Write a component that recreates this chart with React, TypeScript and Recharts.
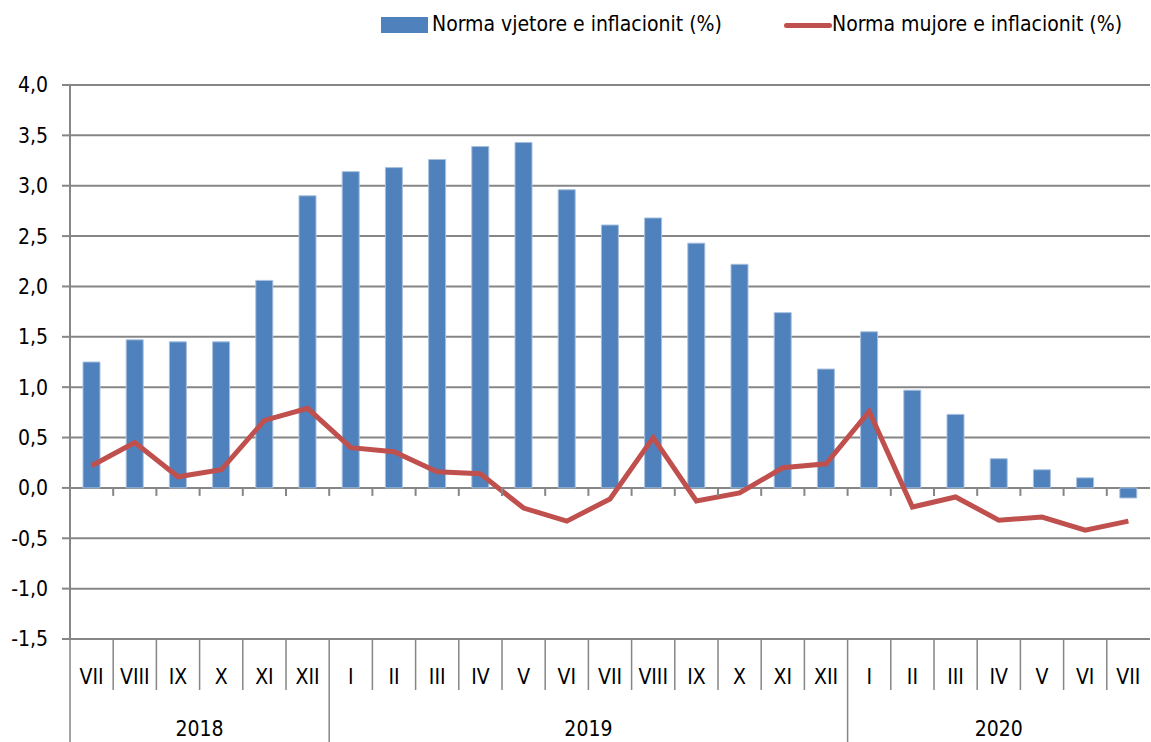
import React from "react";
import {
  ComposedChart,
  Bar,
  Line,
  XAxis,
  YAxis,
  CartesianGrid,
} from "recharts";

const months = [
  "VII", "VIII", "IX", "X", "XI", "XII",
  "I", "II", "III", "IV", "V", "VI", "VII", "VIII", "IX", "X", "XI", "XII",
  "I", "II", "III", "IV", "V", "VI", "VII",
];
const years = ["2018", "2019", "2020"];
const monthsPerYear = [6, 12, 7];

// Norma vjetore e inflacionit (%)
const annualRate = [
  1.25, 1.47, 1.45, 1.45, 2.06, 2.9,
  3.14, 3.18, 3.26, 3.39, 3.43, 2.96, 2.61, 2.68, 2.43, 2.22, 1.74, 1.18,
  1.55, 0.97, 0.73, 0.29, 0.18, 0.1, -0.1,
];
// Norma mujore e inflacionit (%)
const monthlyRate = [
  0.22, 0.45, 0.11, 0.18, 0.67, 0.79,
  0.4, 0.36, 0.16, 0.14, -0.2, -0.33, -0.11, 0.5, -0.13, -0.05, 0.2, 0.24,
  0.76, -0.19, -0.09, -0.32, -0.29, -0.42, -0.33,
];
const yTicks = [-1.5, -1, -0.5, 0, 0.5, 1, 1.5, 2, 2.5, 3, 3.5, 4];

const data = months.map((m, i) => ({
  month: m,
  annual: annualRate[i],
  monthly: monthlyRate[i],
}));

const W = 1151;
const H = 742;
const PLOT_LEFT = 70;
const PLOT_RIGHT = 1150;
const PLOT_TOP = 85;
const PLOT_BOTTOM = 639;
const BAND = (PLOT_RIGHT - PLOT_LEFT) / months.length;
const ZERO_Y =
  PLOT_TOP + ((4 - 0) / (4 - -1.5)) * (PLOT_BOTTOM - PLOT_TOP);

const FONT = "'DejaVu Sans Condensed', 'DejaVu Sans', sans-serif";
const FS = 21;
const GRID = "#868686";
const textStyle: React.CSSProperties = { fontStretch: "condensed" };

const yearStarts = monthsPerYear.map((_, k) =>
  monthsPerYear.slice(0, k).reduce((a, b) => a + b, 0)
);

function MonthTick(props: any) {
  const { x, payload, index } = props;
  const left = x - BAND / 2;
  const k = yearStarts.indexOf(index);
  return (
    <g>
      <line x1={left} x2={left} y1={ZERO_Y} y2={ZERO_Y + 8} stroke={GRID} strokeWidth={2} />
      <line
        x1={left}
        x2={left}
        y1={PLOT_BOTTOM}
        y2={k >= 0 ? H : 690}
        stroke={GRID}
        strokeWidth={1.5}
      />
      <text x={x} y={684} textAnchor="middle" fontSize={FS} fill="#000" fontFamily={FONT} style={textStyle}>
        {payload.value}
      </text>
      {k >= 0 && (
        <text
          x={left + (monthsPerYear[k] * BAND) / 2}
          y={736}
          textAnchor="middle"
          fontSize={FS}
          fill="#000"
          fontFamily={FONT}
          style={textStyle}
        >
          {years[k]}
        </text>
      )}
    </g>
  );
}

function TopLegend() {
  const txt: React.CSSProperties = {
    position: "absolute",
    top: 12,
    fontSize: FS,
    lineHeight: "25px",
    fontFamily: FONT,
    fontStretch: "condensed",
    color: "#000",
    whiteSpace: "nowrap",
  };
  return (
    <div style={{ position: "absolute", left: 0, top: 0, width: W, height: 50, pointerEvents: "none" }}>
      <div style={{ position: "absolute", left: 381, top: 17, width: 47, height: 16, background: "#4F81BD" }} />
      <span style={{ ...txt, left: 432 }}>Norma vjetore e inflacionit (%)</span>
      <div style={{ position: "absolute", left: 784, top: 23, width: 48, height: 5, borderRadius: 3, background: "#C0504D" }} />
      <span style={{ ...txt, left: 832 }}>Norma mujore e inflacionit (%)</span>
    </div>
  );
}

export default function App() {
  return (
    <div style={{ position: "absolute", left: 0, top: 0, width: W, height: H, background: "#fff" }}>
      <ComposedChart
        width={W}
        height={H}
        data={data}
        margin={{ top: PLOT_TOP, right: W - PLOT_RIGHT, bottom: 0, left: 0 }}
      >
        <CartesianGrid vertical={false} stroke={GRID} strokeWidth={2} />
        <XAxis
          dataKey="month"
          interval={0}
          tick={<MonthTick />}
          tickLine={false}
          axisLine={false}
          height={H - PLOT_BOTTOM}
        />
        <YAxis
          width={PLOT_LEFT}
          domain={[-1.5, 4]}
          ticks={yTicks}
          tickFormatter={(v: number) => v.toFixed(1).replace(".", ",")}
          tick={{ fontSize: FS, fill: "#000", fontFamily: FONT, style: textStyle }}
          tickSize={8}
          tickMargin={14}
          axisLine={{ stroke: GRID, strokeWidth: 2 }}
          tickLine={{ stroke: GRID, strokeWidth: 2 }}
        />
        <Bar
          dataKey="annual"
          name="Norma vjetore e inflacionit (%)"
          fill="#4F81BD"
          stroke="#A7C0DE"
          strokeWidth={1}
          barSize={17}
          isAnimationActive={false}
        />
        <Line
          dataKey="monthly"
          name="Norma mujore e inflacionit (%)"
          stroke="#C0504D"
          strokeWidth={5}
          dot={false}
          type="linear"
          isAnimationActive={false}
        />
      </ComposedChart>
      <TopLegend />
    </div>
  );
}
